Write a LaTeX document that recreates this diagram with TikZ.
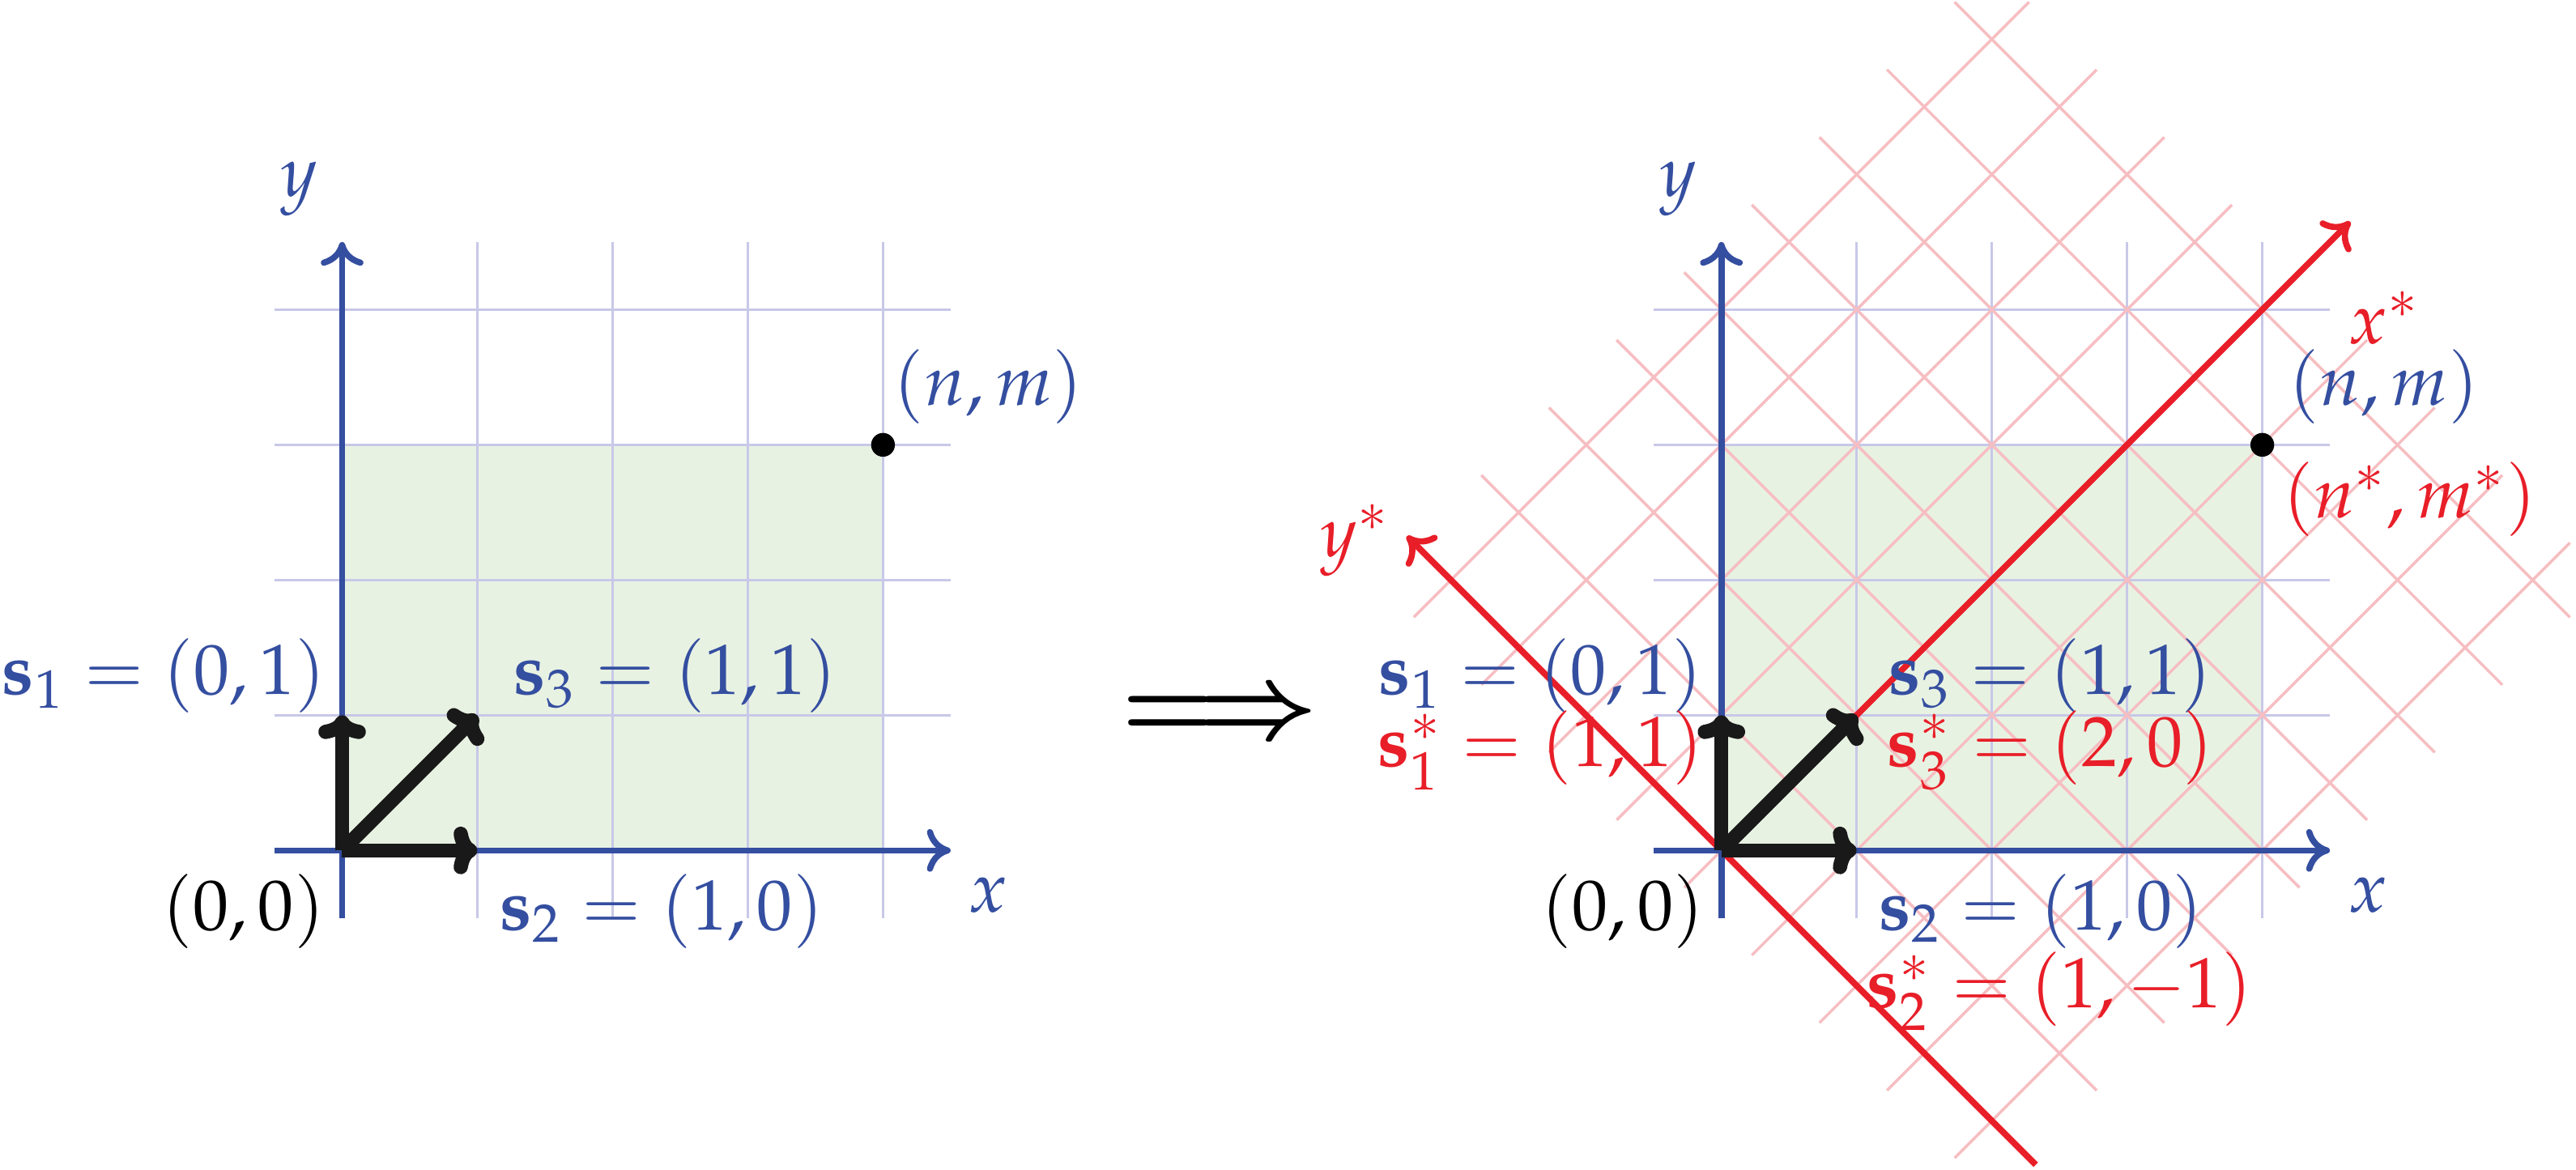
\documentclass[tikz,border=0pt]{standalone}
\usepackage{amsmath}
\usepackage{mathpazo}
\usetikzlibrary{arrows.meta}
\definecolor{ablue}{RGB}{52,78,160}
\definecolor{ared}{RGB}{232,30,40}
\definecolor{gridc}{RGB}{200,200,232}
\definecolor{pinkc}{RGB}{246,190,194}
\definecolor{greenf}{RGB}{232,242,226}
\tikzset{
  lbl/.style={font=\fontsize{15}{18}\selectfont},
  baxis/.style={ablue,line width=1.3pt,-{To[length=5pt,width=9pt]}},
  raxis/.style={ared,line width=1.3pt,-{To[length=5pt,width=9pt]}},
  vec/.style={black!90,line width=3pt,-{To[length=5pt,width=10pt]}},
}
\newcommand{\panel}[1]{%
  \fill[greenf] (0,0) rectangle (4,3);
  \draw[gridc,line width=0.6pt] (-0.5,-0.5) grid (4.5,4.5);
  #1
  \draw[baxis] (-0.5,0) -- (4.5,0);
  \draw[baxis] (0,-0.5) -- (0,4.5);
  \fill (4,3) circle (2.5pt);
}
\begin{document}
\begin{tikzpicture}
\useasboundingbox (-2.53,-2.36) rectangle (16.52,6.29);
% left panel
\begin{scope}
\panel{}
\draw[vec] (0,0) -- (0,1);
\draw[vec] (0,0) -- (1,0);
\draw[vec] (0,0) -- (1,1);
\node[lbl,ablue] (ly) at (-0.32,4.89) {$y$};
\node[lbl,ablue] (lx) at (4.78,-0.33) {$x$};
\node[lbl,ablue] (lnm) at (4.78,3.43) {$(n,m)$};
\node[lbl,ablue] (ls1) at (-1.32,1.29) {$\mathbf{s}_1=(0,1)$};
\node[lbl,ablue] (ls3) at (2.46,1.29) {$\mathbf{s}_3=(1,1)$};
\node[lbl,ablue] (ls2) at (2.36,-0.45) {$\mathbf{s}_2=(1,0)$};
\node[lbl] (lo) at (-0.73,-0.45) {$(0,0)$};
\end{scope}
\node[font=\fontsize{21}{21}\selectfont] (impl) at (6.49,0.99) {$\boldsymbol{\Longrightarrow}$};
% right panel
\begin{scope}[xshift=10.2cm]
\panel{%
  \begin{scope}[cm={0.5,0.5,-0.5,0.5,(0,0)}]
    \foreach \k in {0,...,8} \draw[pinkc,line width=0.6pt] (\k,-4.55) -- (\k,4.55);
    \foreach \j in {-4,...,4} \draw[pinkc,line width=0.6pt] (-0.55,\j) -- (8.55,\j);
    \coordinate (ytop) at (0,4.65);
    \coordinate (ybot) at (0,-4.65);
    \coordinate (xo) at (0,0);
    \coordinate (xend) at (9.3,0);
  \end{scope}
  \draw[raxis] (ybot) -- (ytop);
  \draw[raxis] (xo) -- (xend);
}
\draw[vec] (0,0) -- (0,1);
\draw[vec] (0,0) -- (1,0);
\draw[vec] (0,0) -- (1,1);
\node[lbl,ablue] (ry) at (-0.32,4.89) {$y$};
\node[lbl,ablue] (rx) at (4.78,-0.33) {$x$};
\node[lbl,ared] (rys) at (-2.71,2.29) {$y^*$};
\node[lbl,ared] (rxs) at (4.9,3.94) {$x^*$};
\node[lbl,ablue] (rnm) at (4.9,3.43) {$(n,m)$};
\node[lbl,ared] (rnms) at (5.09,2.6) {$(n^*,m^*)$};
\node[lbl,ablue] (rs1) at (-1.34,1.29) {$\mathbf{s}_1=(0,1)$};
\node[lbl,ared] (rs1s) at (-1.34,0.74) {$\mathbf{s}^*_1=(1,1)$};
\node[lbl,ablue] (rs3) at (2.43,1.29) {$\mathbf{s}_3=(1,1)$};
\node[lbl,ared] (rs3s) at (2.43,0.74) {$\mathbf{s}^*_3=(2,0)$};
\node[lbl,ablue] (rs2) at (2.36,-0.45) {$\mathbf{s}_2=(1,0)$};
\node[lbl,ared] (rs2s) at (2.5,-1.04) {$\mathbf{s}^*_2=(1,-1)$};
\node[lbl] (ro) at (-0.73,-0.45) {$(0,0)$};
\end{scope}
\end{tikzpicture}
\end{document}
